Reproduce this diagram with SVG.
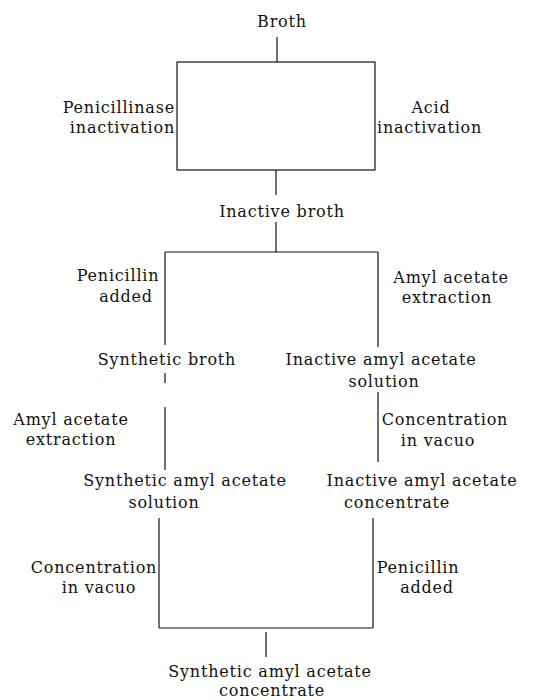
<svg xmlns="http://www.w3.org/2000/svg" width="538" height="700" viewBox="0 0 538 700">
<style>
text{font-family:"DejaVu Serif","Liberation Serif",serif;font-size:16px;letter-spacing:0.8px;fill:#111}
.m{text-anchor:middle}
.e{text-anchor:end}
line,rect{stroke:#111;stroke-width:1.2;fill:none}
</style>
<rect width="538" height="700" fill="#fff" style="stroke:none"/>
<g id="connectors">
<line x1="277" y1="37" x2="277" y2="62"/>
<rect x="177" y="62" width="198" height="108"/>
<line x1="276" y1="170" x2="276" y2="195"/>
<line x1="276" y1="222" x2="276" y2="252"/>
<line x1="165" y1="252" x2="378" y2="252"/>
<line x1="165" y1="252" x2="165" y2="345"/>
<line x1="165" y1="373" x2="165" y2="383"/>
<line x1="378" y1="252" x2="378" y2="347"/>
<line x1="378" y1="392" x2="378" y2="462"/>
<line x1="165" y1="407" x2="165" y2="470"/>
<line x1="159" y1="518" x2="159" y2="628"/>
<line x1="373" y1="518" x2="373" y2="628"/>
<line x1="159" y1="628" x2="373" y2="628"/>
<line x1="266" y1="632" x2="266" y2="657"/>
</g>
<g id="broth"><text class="m" x="282" y="27">Broth</text></g>
<g id="penicillinase"><text class="e" x="175" y="113">Penicillinase</text><text class="e" x="175" y="133">inactivation</text></g>
<g id="acid"><text class="m" x="431" y="113">Acid</text><text x="377" y="133">inactivation</text></g>
<g id="inactive-broth"><text class="m" x="282" y="217">Inactive broth</text></g>
<g id="pen-added-1"><text class="m" x="118" y="281">Penicillin</text><text class="m" x="126" y="302">added</text></g>
<g id="amyl-extr-1"><text class="m" x="451" y="283">Amyl acetate</text><text class="m" x="447" y="303">extraction</text></g>
<g id="synthetic-broth"><text class="m" x="167" y="365">Synthetic broth</text></g>
<g id="inactive-amyl-sol"><text class="m" x="381" y="365">Inactive amyl acetate</text><text class="m" x="384" y="387">solution</text></g>
<g id="amyl-extr-2"><text class="m" x="71" y="425">Amyl acetate</text><text class="m" x="71" y="445">extraction</text></g>
<g id="conc-1"><text class="m" x="445" y="425">Concentration</text><text class="m" x="438" y="446">in vacuo</text></g>
<g id="synthetic-amyl-sol"><text class="m" x="185" y="486">Synthetic amyl acetate</text><text class="m" x="164" y="508">solution</text></g>
<g id="inactive-amyl-conc"><text class="m" x="422" y="486">Inactive amyl acetate</text><text class="m" x="397" y="508">concentrate</text></g>
<g id="conc-2"><text class="m" x="94" y="573">Concentration</text><text class="m" x="99" y="593">in vacuo</text></g>
<g id="pen-added-2"><text class="m" x="418" y="573">Penicillin</text><text class="m" x="427" y="593">added</text></g>
<g id="synthetic-amyl-conc"><text class="m" x="270" y="677">Synthetic amyl acetate</text><text class="m" x="272" y="696">concentrate</text></g>
</svg>
